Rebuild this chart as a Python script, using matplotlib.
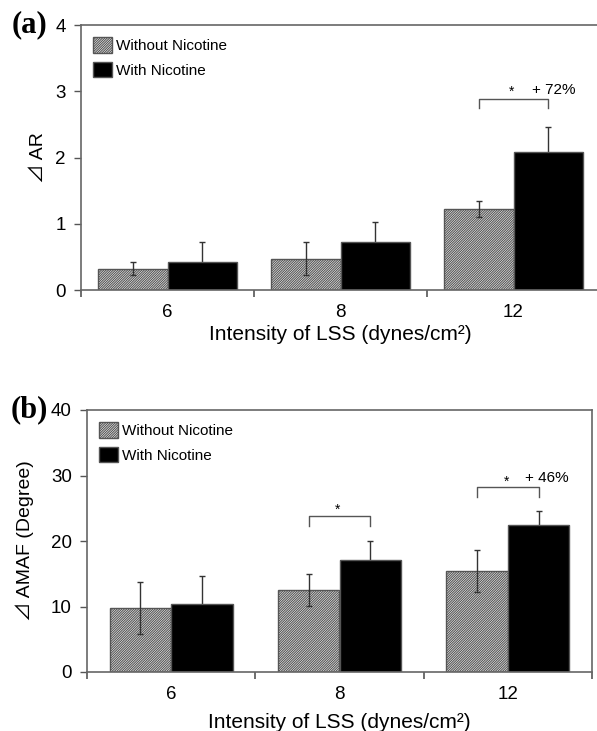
import matplotlib
matplotlib.use("Agg")
import matplotlib.pyplot as plt
import numpy as np

plt.rcParams['font.family'] = ['Liberation Sans', 'Noto Sans CJK JP', 'DejaVu Sans']
plt.rcParams['hatch.linewidth'] = 0.8
plt.rcParams['hatch.color'] = '#222222'

categories = ["6", "8", "12"]
series_names = ["Without Nicotine", "With Nicotine"]

ar_without = [0.32, 0.47, 1.22]
ar_without_err = [0.10, 0.25, 0.12]
ar_with = [0.42, 0.72, 2.08]
ar_with_err = [0.31, 0.30, 0.38]

amaf_without = [9.8, 12.5, 15.4]
amaf_without_err = [4.0, 2.4, 3.2]
amaf_with = [10.4, 17.1, 22.4]
amaf_with_err = [4.3, 2.9, 2.2]

# significance annotations: (category index, bracket top, leg bottom, label)
ar_sig = [(2, 2.89, 2.74, "+ 72%")]
amaf_sig = [(1, 23.8, 22.3, ""), (2, 28.2, 26.7, "+ 46%")]

W, H = 597, 731
fig = plt.figure(figsize=(W / 100, H / 100), dpi=100)

def draw(ax, without, without_err, with_, with_err, ymax, yticks, width, ylabel, sig,
         labtxt, labx, pct_dy, star_dy, xlabpad, ylabpad):
    x = np.arange(len(categories))
    bw = width
    ax.bar(x - bw / 2, without, bw, color='white', edgecolor='#555555', hatch='/' * 14,
           linewidth=1.0, label=series_names[0], zorder=2)
    ax.bar(x + bw / 2, with_, bw, color='black', edgecolor='#555555', linewidth=1.0,
           label=series_names[1], zorder=2)
    ax.errorbar(x - bw / 2, without, yerr=without_err, fmt='none', ecolor='#333333',
                elinewidth=1.0, capsize=2.5, capthick=1.0, zorder=3)
    ax.errorbar(x + bw / 2, with_, yerr=with_err, fmt='none', ecolor='#333333',
                elinewidth=1.0, capsize=2.5, capthick=1.0, zorder=1)
    ax.set_xlim(-0.5, len(categories) - 0.5)
    ax.set_ylim(0, ymax)
    ax.set_yticks(yticks)
    ax.set_xticks(x)
    ax.set_xticklabels(categories)
    ax.set_xticks(np.arange(len(categories) + 1) - 0.5, minor=True)
    ax.tick_params(axis='x', which='major', length=0, pad=10, labelsize=13.5)
    ax.tick_params(axis='x', which='minor', length=5, direction='out', color='#555555', width=1.2)
    ax.tick_params(axis='y', length=5, direction='out', color='#555555', width=1.0, labelsize=13.5, pad=6)
    for s in ax.spines.values():
        s.set_color('#666666')
        s.set_linewidth(1.2)
    ax.set_xlabel("Intensity of LSS (dynes/cm²)", fontsize=15, labelpad=xlabpad)
    ax.set_ylabel(ylabel, fontsize=14, labelpad=ylabpad)
    ax.legend(loc='upper left', frameon=False, fontsize=11, handlelength=1.2,
              handleheight=1.2, handletextpad=0.3, labelspacing=0.55,
              borderaxespad=0.4, borderpad=0.4)
    for ci, top, leg_bot, txt in sig:
        x0 = ci - bw / 2
        x1 = ci + bw / 2
        ax.plot([x0, x0, x1, x1], [leg_bot, top, top, leg_bot], color='#555555', lw=1.0, zorder=4)
        ax.text(ci - 0.01, top + star_dy, "*", ha='center', va='center', fontsize=10)
        if txt:
            ax.text(ci + 0.23, top + pct_dy, txt, ha='center', va='center', fontsize=11)
    ax.text(labx, 1.0, labtxt, transform=ax.transAxes, ha='right', va='center',
            fontsize=22, fontweight='bold', family='Liberation Serif')

ax1 = fig.add_axes([81 / W, 1 - 290 / H, (600 - 81) / W, 265 / H])
draw(ax1, ar_without, ar_without_err, ar_with, ar_with_err, 4, [0, 1, 2, 3, 4], 0.4,
     "⊿ AR", ar_sig, "(a)", -0.064, 0.13, 0.1, 3, 6)

ax2 = fig.add_axes([87 / W, 1 - 672 / H, 505 / W, 262 / H])
draw(ax2, amaf_without, amaf_without_err, amaf_with, amaf_with_err, 40, [0, 10, 20, 30, 40], 0.365,
     "⊿ AMAF (Degree)", amaf_sig, "(b)", -0.078, 1.4, 0.9, 7, 12)

fig.savefig("out.png", dpi=100)
